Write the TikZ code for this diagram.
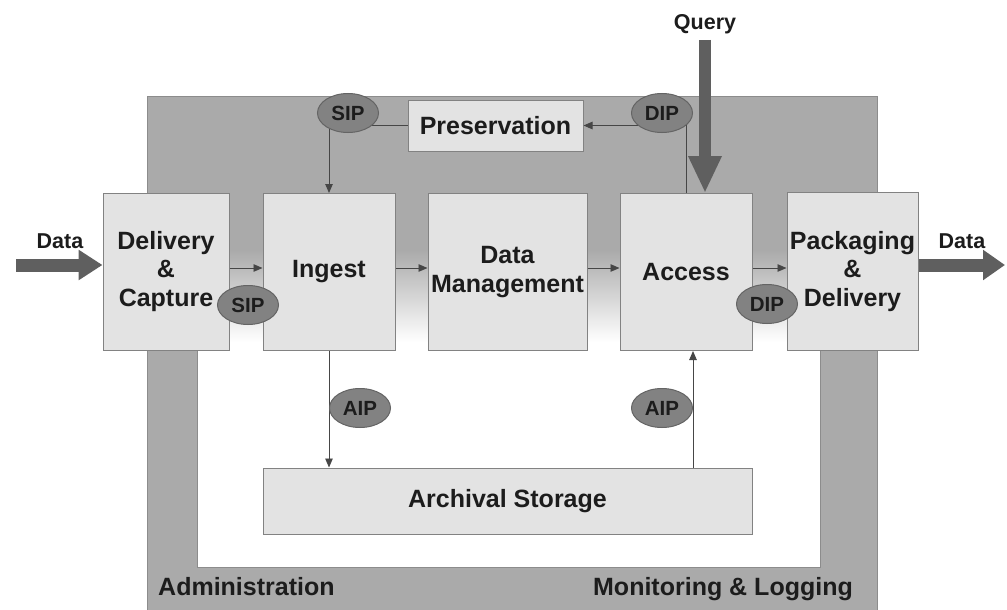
\documentclass[tikz,border=0pt]{standalone}
\usepackage{fontspec}
\setmainfont{Liberation Sans}
\usetikzlibrary{arrows.meta,shapes.geometric}
\definecolor{framegray}{RGB}{170,170,170}
\definecolor{frameline}{RGB}{140,140,140}
\definecolor{boxfill}{RGB}{227,227,227}
\definecolor{boxline}{RGB}{130,130,130}
\definecolor{pktfill}{RGB}{130,130,130}
\definecolor{pktline}{RGB}{100,100,100}
\definecolor{arrowgray}{RGB}{95,95,95}
\definecolor{lineink}{RGB}{70,70,70}
\definecolor{ink}{RGB}{28,28,28}
\newcommand\boxfont{\fontsize{25}{28.5}\selectfont\bfseries}
\newcommand\lblfont{\fontsize{21.5}{24}\selectfont\bfseries}
\newcommand\pktfont{\fontsize{20.5}{23}\selectfont\bfseries}
\begin{document}
\begin{tikzpicture}[x=1pt,y=-1pt,
  box/.style={draw=boxline, fill=boxfill, line width=1pt, inner sep=0pt,
    align=center, font=\boxfont, text=ink},
  pkt/.style={ellipse, draw=pktline, fill=pktfill, line width=1pt,
    minimum width=61pt, minimum height=39pt, inner sep=0pt,
    font=\pktfont, text=ink},
  conn/.style={draw=lineink, line width=0.9pt, -{Triangle[length=9pt,width=7.5pt]}},
  bigarrow/.style={draw=arrowgray, line width=13pt},
  lbl/.style={font=\lblfont, text=ink, inner sep=0pt},
  band/.style={font=\boxfont, text=ink, inner sep=0pt}]
\useasboundingbox (0,0) rectangle (1007,610);

% administration / monitoring frame
\fill[framegray, draw=frameline, line width=1pt] (147,96) rectangle (877,612);
\fill[white] (197,340) rectangle (820,567);
\shade[top color=framegray, bottom color=white] (197,250) rectangle (820,342);
\draw[frameline, line width=0.6pt] (197,350) -- (197,567) -- (820,567) -- (820,350);

% functional entities
\node[box, minimum width=126pt, minimum height=157pt] (dc) at (166,271.5) {Delivery\\\&\\Capture};
\node[box, minimum width=132pt, minimum height=157pt] (ing) at (329,272) {Ingest};
\node[box, minimum width=159pt, minimum height=157pt] (dm) at (507.5,272) {Data\\Management};
\node[box, minimum width=132pt, minimum height=157pt] (ac) at (686,272) {Access};
\node[box, minimum width=131pt, minimum height=158pt] (pd) at (852.5,271.5) {Packaging\\\&\\Delivery};
\node[box, minimum width=175pt, minimum height=51pt] (pres) at (495.5,125.5) {Preservation};
\node[box, minimum width=489pt, minimum height=66pt] (arch) at (507.5,501) {Archival Storage};

% flow between entities
\coordinate (row) at (0,268);
\draw[conn] (dc.east |- row) -- (ing.west |- row);
\draw[conn] (ing.east |- row) -- (dm.west |- row);
\draw[conn] (dm.east |- row) -- (ac.west |- row);
\draw[conn] (ac.east |- row) -- (pd.west |- row);
\draw[conn] (pres.west) -| (ing.north);
\draw[conn] (ac.north) |- (pres.east);
\draw[conn] (ing.south) -- (ing.south |- arch.north);
\coordinate (aipx) at (693,0);
\draw[conn] (aipx |- arch.north) -- (aipx |- ac.south);

% information packages
\node[pkt] (sip1) at (348,113) {SIP};
\node[pkt] (dip1) at (662,113) {DIP};
\node[pkt] (sip2) at (248,305) {SIP};
\node[pkt] (dip2) at (767,304) {DIP};
\node[pkt] (aip1) at (360,408) {AIP};
\node[pkt] (aip2) at (662,408) {AIP};

% external inputs and outputs
\coordinate (din) at (16,265);
\draw[bigarrow, -{Triangle[length=24pt,width=29pt]}] (din) -- (din -| dc.west);
\coordinate (dout) at (1005,265);
\draw[bigarrow, -{Triangle[length=22pt,width=29pt]}] (dout -| pd.east) -- (dout);
\coordinate (qin) at (705,40);
\draw[draw=arrowgray, line width=12pt, -{Triangle[length=37pt,width=31pt]}] (qin) -- (qin |- ac.north);

\node[lbl] (ldin) at (60,241) {Data};
\node[lbl] (ldout) at (962,241) {Data};
\node[lbl] (lq) at (705,24) {Query};

% frame labels
\node[band, anchor=base west] (adm) at (158,595) {Administration};
\node[band, anchor=base east] (mon) at (853,595) {Monitoring \& Logging};
\end{tikzpicture}
\end{document}
